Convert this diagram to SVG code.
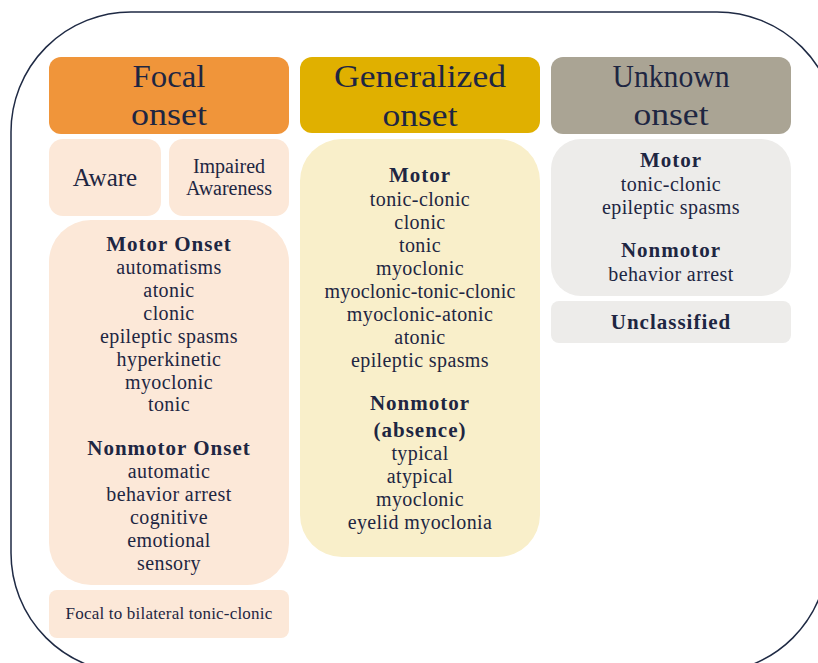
<svg xmlns="http://www.w3.org/2000/svg" width="818" height="663" viewBox="0 0 818 663">
<style>
text{font-family:"Liberation Serif","Times New Roman",serif;fill:#1e2642;text-anchor:middle}
.h{font-size:32px}
.b{font-size:21px;font-weight:bold;letter-spacing:1px}
.t{font-size:20px;letter-spacing:0.4px}
.focal{fill:#f0953a}
.focalL{fill:#fce8d8}
.gen{fill:#e0b000}
.genL{fill:#f9efca}
.unk{fill:#aaa494}
.unkL{fill:#edecea}
</style>
<rect width="818" height="663" fill="#ffffff"/>
<path d="M131,12 H717 A120 120 0 0 1 837 132 L828 553 A120 120 0 0 1 708 673 H131 A120 120 0 0 1 11 553 V132 A120 120 0 0 1 131 12 Z" fill="none" stroke="#1f2a44" stroke-width="1.5"/>

<g id="focal-header">
<rect class="focal" x="49" y="57" width="240" height="77" rx="12"/>
<text class="h" x="169" y="87" textLength="73" lengthAdjust="spacingAndGlyphs">Focal</text>
<text class="h" x="169" y="125" textLength="76" lengthAdjust="spacingAndGlyphs">onset</text>
</g>
<g id="aware">
<rect class="focalL" x="49" y="139" width="112" height="77" rx="14"/>
<text x="105" y="186" style="font-size:25px">Aware</text>
</g>
<g id="impaired">
<rect class="focalL" x="169" y="139" width="120" height="77" rx="14"/>
<text x="229" y="173" style="font-size:20px">Impaired</text>
<text x="229" y="195" style="font-size:20px">Awareness</text>
</g>
<g id="focal-types">
<rect class="focalL" x="49" y="220" width="240" height="365" rx="42"/>
<text class="b" x="169" y="251">Motor Onset</text>
<text class="t" x="169" y="274">automatisms</text>
<text class="t" x="169" y="297">atonic</text>
<text class="t" x="169" y="320">clonic</text>
<text class="t" x="169" y="343">epileptic spasms</text>
<text class="t" x="169" y="366">hyperkinetic</text>
<text class="t" x="169" y="389">myoclonic</text>
<text class="t" x="169" y="411">tonic</text>
<text class="b" x="169" y="455">Nonmotor Onset</text>
<text class="t" x="169" y="478">automatic</text>
<text class="t" x="169" y="501">behavior arrest</text>
<text class="t" x="169" y="524">cognitive</text>
<text class="t" x="169" y="547">emotional</text>
<text class="t" x="169" y="570">sensory</text>
</g>
<g id="focal-bilateral">
<rect class="focalL" x="49" y="590" width="240" height="48" rx="8"/>
<text x="169" y="619" style="font-size:17px;letter-spacing:0.2px">Focal to bilateral tonic-clonic</text>
</g>

<g id="generalized-header">
<rect class="gen" x="300" y="57" width="240" height="76" rx="12"/>
<text class="h" x="420" y="87" textLength="172" lengthAdjust="spacingAndGlyphs">Generalized</text>
<text class="h" x="420" y="126" textLength="75" lengthAdjust="spacingAndGlyphs">onset</text>
</g>
<g id="generalized-types">
<rect class="genL" x="300" y="139" width="240" height="418" rx="42"/>
<text class="b" x="420" y="182">Motor</text>
<text class="t" x="420" y="206">tonic-clonic</text>
<text class="t" x="420" y="229">clonic</text>
<text class="t" x="420" y="252">tonic</text>
<text class="t" x="420" y="275">myoclonic</text>
<text class="t" x="420" y="298" style="letter-spacing:0.2px">myoclonic-tonic-clonic</text>
<text class="t" x="420" y="321">myoclonic-atonic</text>
<text class="t" x="420" y="344">atonic</text>
<text class="t" x="420" y="367">epileptic spasms</text>
<text class="b" x="420" y="410">Nonmotor</text>
<text class="b" x="420" y="437">(absence)</text>
<text class="t" x="420" y="460">typical</text>
<text class="t" x="420" y="483">atypical</text>
<text class="t" x="420" y="506">myoclonic</text>
<text class="t" x="420" y="529">eyelid myoclonia</text>
</g>

<g id="unknown-header">
<rect class="unk" x="551" y="57" width="240" height="77" rx="12"/>
<text class="h" x="671" y="87" textLength="117" lengthAdjust="spacingAndGlyphs">Unknown</text>
<text class="h" x="671" y="125" textLength="75" lengthAdjust="spacingAndGlyphs">onset</text>
</g>
<g id="unknown-types">
<rect class="unkL" x="551" y="139" width="240" height="157" rx="30"/>
<text class="b" x="671" y="167">Motor</text>
<text class="t" x="671" y="191">tonic-clonic</text>
<text class="t" x="671" y="214">epileptic spasms</text>
<text class="b" x="671" y="257">Nonmotor</text>
<text class="t" x="671" y="281">behavior arrest</text>
</g>
<g id="unclassified">
<rect class="unkL" x="551" y="301" width="240" height="42" rx="8"/>
<text class="b" x="671" y="329">Unclassified</text>
</g>
<g id="connectors"></g>
</svg>
